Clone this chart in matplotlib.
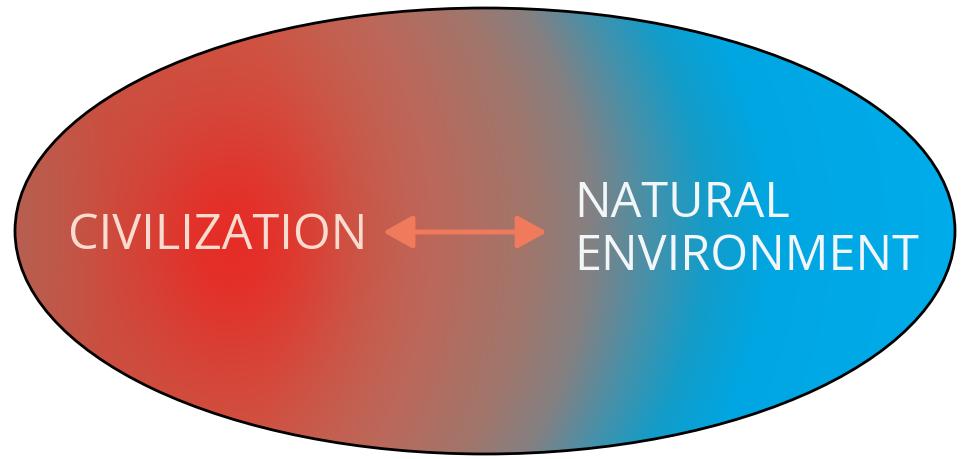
import numpy as np
import matplotlib.pyplot as plt
from matplotlib.patches import Ellipse

# canvas in pixel units
W, H = 967, 460

# ellipse outline (center, full width, full height)
ell_center = (485, 232)
ell_width = 940
ell_height = 446

# horizontal colour stops across the ellipse (x in px, rgb 0-255)
stop_x = [15, 120, 300, 430, 530, 590, 650, 705, 770, 955]
stop_rgb = [(182, 96, 82), (200, 82, 66), (205, 86, 68), (188, 104, 90),
            (160, 118, 108), (132, 128, 130), (70, 145, 170), (20, 156, 200),
            (0, 166, 226), (0, 172, 234)]

# red hot spot behind CIVILIZATION
hot_center = (232, 245)
hot_rgb = (234, 38, 34)
hot_radius = (100, 135)

labels = ["CIVILIZATION", "NATURAL\nENVIRONMENT"]

fig = plt.figure(figsize=(W / 100, H / 100), dpi=100)
ax = fig.add_axes([0, 0, 1, 1])
ax.set_xlim(0, W)
ax.set_ylim(H, 0)
ax.axis("off")

# build the gradient image
yy, xx = np.mgrid[0:H, 0:W].astype(float)
u = xx + 0.0013 * (yy - ell_center[1]) ** 2  # curved blue front
sx = np.array(stop_x, float)
rgb = np.array(stop_rgb, float) / 255
img = np.zeros((H, W, 3))
for c in range(3):
    img[..., c] = np.interp(u, sx, rgb[:, c])
d2 = ((xx - hot_center[0]) / hot_radius[0]) ** 2 + ((yy - hot_center[1]) / hot_radius[1]) ** 2
wgt = np.exp(-d2) * 0.85
img = img * (1 - wgt[..., None]) + np.array(hot_rgb, float)[None, None, :] / 255 * wgt[..., None]

ell = Ellipse(ell_center, ell_width, ell_height, facecolor="none",
              edgecolor="black", linewidth=2, zorder=3)
ax.add_patch(ell)
im = ax.imshow(img, extent=(0, W, H, 0), interpolation="bilinear", zorder=1)
im.set_clip_path(ell)

ax.text(68, 236, labels[0], fontsize=35, family="Open Sans", color="#f9dccf",
        va="center", ha="left", zorder=4)
ax.text(574, 231, labels[1], fontsize=35, family="Open Sans", color="#f2f6f8",
        va="center", ha="left", linespacing=1.08, zorder=4)

# double-headed arrow between the two words
ax.annotate("", xy=(547, 233), xytext=(383, 233),
            arrowprops=dict(arrowstyle="<|-|>,head_length=0.9,head_width=0.5",
                            mutation_scale=20, color="#ef7a5c", lw=3.5,
                            shrinkA=0, shrinkB=0),
            zorder=4)

fig.savefig("out.png", dpi=100)
